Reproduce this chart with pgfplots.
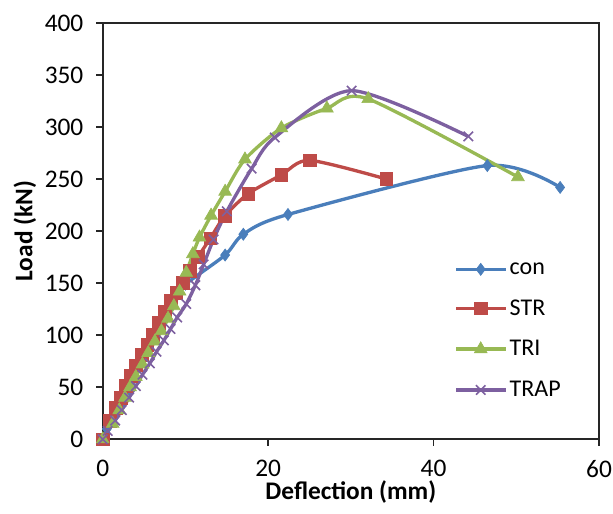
\documentclass[border=0pt]{standalone}
\usepackage{pgfplots}
\pgfplotsset{compat=1.18}
\usepackage{fontspec}
\setmainfont{Carlito}
\definecolor{cblue}{HTML}{4A7EBB}
\definecolor{cred}{HTML}{BE4B48}
\definecolor{cgreen}{HTML}{98B954}
\definecolor{cpurple}{HTML}{7D60A0}
\definecolor{axgray}{HTML}{262626}
\begin{document}
\begin{tikzpicture}
\begin{axis}[
  scale only axis,
  width=372pt, height=312pt,
  xmin=0, xmax=60, ymin=0, ymax=400,
  xtick={0,20,40,60}, ytick={0,50,...,400},
  axis line style={axgray, line width=1.2pt},
  tick style={axgray, line width=1.2pt},
  major tick length=5pt,
  tick align=outside,
  xtick pos=bottom, ytick pos=left,
  /pgf/number format/assume math mode=true,
  tick label style={font=\fontsize{19}{22}\selectfont, text=black},
  xticklabel style={yshift=-7pt},
  yticklabel style={xshift=-6pt},
  xlabel={\textbf{Deflection (mm)}},
  ylabel={\textbf{Load (kN)}},
  every axis x label/.style={at={(axis description cs:0.5,-0.127)}, anchor=center, font=\fontsize{19}{22}\selectfont},
  every axis y label/.style={at={(axis description cs:-0.157,0.5)}, anchor=center, rotate=90, font=\fontsize{19}{22}\selectfont},
  legend style={draw=none, fill=none, at={(0.70,0.438)}, anchor=north west,
    font=\fontsize{18}{21}\selectfont, row sep=13.5pt},
  legend cell align=left,
  legend image code/.code={\draw[mark repeat=2,mark phase=2] plot coordinates {(0cm,0cm) (0.65cm,0cm) (1.3cm,0cm)};},
  every axis plot/.append style={line width=2.5pt, smooth, tension=0.45},
]
\addplot[cblue, mark=diamond*, mark size=4.5pt, mark options={solid, line width=0.5pt, fill=cblue}]
coordinates {(0,0) (0.5,10) (1.2,20) (2,32) (2.8,45) (3.6,57) (4.4,70) (5.2,82) (6,95) (6.8,107) (7.6,119) (8.4,130) (9.2,140) (10,149) (14.8,177) (17,197) (22.4,216) (46.5,263) (55.3,242)};
\addlegendentry{con}
\addplot[cred, mark=square*, mark size=4.8pt, mark options={solid, line width=0.5pt, fill=cred}]
coordinates {(0,0) (0.9,18) (1.6,30) (2.2,40) (2.8,51) (3.4,61) (4,71) (4.7,81) (5.4,91) (6.1,100) (6.8,112) (7.5,123) (8.2,133) (8.9,141) (9.7,150) (10.5,162) (11.5,175) (13,193) (14.8,215) (17.6,236) (21.6,254) (25,268) (34.3,250)};
\addlegendentry{STR}
\addplot[cgreen, mark=triangle*, mark size=5.5pt, mark options={solid, line width=0.5pt, fill=cgreen}]
coordinates {(0,0) (1.2,15) (2,28) (2.7,40) (3.3,50) (4,60) (4.8,72) (5.5,83) (6.3,94) (7.1,104) (7.9,116) (8.6,128) (9.3,142) (10.1,160) (10.9,178) (11.7,194) (13.1,215) (14.8,238) (17.2,269) (21.6,299) (27.1,318) (32.1,327) (50.2,252)};
\addlegendentry{TRI}
\addplot[cpurple, mark=x, mark size=5pt, mark options={solid, line width=1.2pt}]
coordinates {(0,0) (0.6,8) (1.5,18) (2.3,28) (3.2,40) (4,51) (4.8,62) (5.7,73) (6.5,84) (7.4,95) (8.2,106) (9,117) (10.1,130) (11.2,148) (12.2,168) (13.4,192) (15,219) (18,260) (20.8,290) (30.1,335) (44.2,291)};
\addlegendentry{TRAP}
\end{axis}
\pgfresetboundingbox
\path ([xshift=-77pt,yshift=-55.5pt]current axis.south west) rectangle ([xshift=10.5pt,yshift=17.25pt]current axis.north east);
\end{tikzpicture}
\end{document}
